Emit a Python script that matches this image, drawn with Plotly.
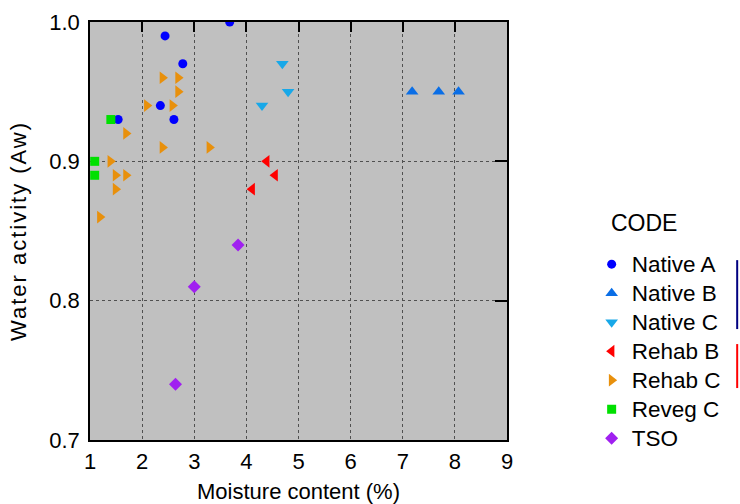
import plotly.graph_objects as go

# ---- data ----
native_a_x = [3.68, 2.44, 2.78, 2.35, 1.54, 2.61]
native_a_y = [1.00, 0.99, 0.97, 0.94, 0.93, 0.93]

native_b_x = [7.18, 7.69, 8.07]
native_b_y = [0.95, 0.95, 0.95]

native_c_x = [4.69, 4.80, 4.30]
native_c_y = [0.97, 0.95, 0.94]

rehab_b_x = [4.39, 4.55, 4.11]
rehab_b_y = [0.90, 0.89, 0.88]

rehab_c_x = [2.39, 2.69, 2.69, 2.09, 2.58, 1.69, 2.39, 3.29, 1.39, 1.49, 1.69, 1.49, 1.19]
rehab_c_y = [0.96, 0.96, 0.95, 0.94, 0.94, 0.92, 0.91, 0.91, 0.90, 0.89, 0.89, 0.88, 0.86]

reveg_c_x = [1.40, 1.09, 1.09]
reveg_c_y = [0.93, 0.90, 0.89]

tso_x = [3.84, 3.00, 2.64]
tso_y = [0.84, 0.81, 0.74]

x_ticks = [1, 2, 3, 4, 5, 6, 7, 8, 9]
y_ticks = [0.7, 0.8, 0.9, 1.0]
y_tick_labels = ["0.7", "0.8", "0.9", "1.0"]

series = [
    ("Native A", native_a_x, native_a_y, "circle", "#0000FF", 9),
    ("Native B", native_b_x, native_b_y, "triangle-up", "#0A6EE6", 11),
    ("Native C", native_c_x, native_c_y, "triangle-down", "#18A8E8", 11),
    ("Rehab B", rehab_b_x, rehab_b_y, "triangle-left", "#FF0000", 11),
    ("Rehab C", rehab_c_x, rehab_c_y, "triangle-right", "#E8900C", 11),
    ("Reveg C", reveg_c_x, reveg_c_y, "square", "#00E000", 9),
    ("TSO", tso_x, tso_y, "diamond", "#A020F0", 10),
]

FONT = "Liberation Sans, Arial, sans-serif"

fig = go.Figure()
for name, xs, ys, sym, col, sz in series:
    fig.add_trace(go.Scatter(
        x=xs, y=ys, mode="markers",
        name='<span style="font-size:22.5px">' + name + '</span>',
        marker=dict(symbol=sym, color=col, size=sz, line=dict(width=0)),
    ))

# dummy trace to anchor top/right tick axes
fig.add_trace(go.Scatter(x=[None], y=[None], xaxis="x2", yaxis="y2",
                         showlegend=False, hoverinfo="skip"))

fig.update_layout(
    width=740, height=504,
    margin=dict(l=89.6, r=232.7, t=21.7, b=64, autoexpand=False),
    paper_bgcolor="white",
    plot_bgcolor="#C0C0C0",
    font=dict(family=FONT, color="black"),
    showlegend=True,
    legend=dict(
        x=1.203, xanchor="left", y=0.4674, yanchor="top",
        font=dict(size=20, family=FONT, color="black"),
        bgcolor="rgba(0,0,0,0)", borderwidth=0,
        itemsizing="trace",
    ),
    xaxis=dict(
        range=[1, 9], tickvals=x_ticks, ticks="", ticklabelstandoff=1,
        tickfont=dict(size=22, family=FONT), automargin=False,
        showgrid=True, gridcolor="#505050", griddash="dot", gridwidth=1,
        showline=True, linecolor="black", linewidth=1.5, mirror=True,
        zeroline=False,
        title=dict(text="Moisture content (%)", font=dict(size=22, family=FONT), standoff=16),
    ),
    yaxis=dict(
        range=[0.7, 1.0], tickvals=y_ticks, ticktext=y_tick_labels, ticks="", ticklabelstandoff=4,
        tickfont=dict(size=22, family=FONT), automargin=False,
        showgrid=True, gridcolor="#505050", griddash="dot", gridwidth=1,
        showline=True, linecolor="black", linewidth=1.5, mirror=True,
        zeroline=False,
        title=dict(text='<span style="letter-spacing:2px">Water activity (Aw)</span>',
                   font=dict(size=22, family=FONT), standoff=17),
    ),
    xaxis2=dict(
        range=[1, 9], overlaying="x", side="top", tickvals=x_ticks,
        ticks="inside", ticklen=10, tickwidth=1.5, tickcolor="black", automargin=False,
        showticklabels=False, showgrid=False, zeroline=False, showline=False,
    ),
    yaxis2=dict(
        range=[0.7, 1.0], overlaying="y", side="right", tickvals=y_ticks,
        ticks="inside", ticklen=12, tickwidth=1.5, tickcolor="black", automargin=False,
        showticklabels=False, showgrid=False, zeroline=False, showline=False,
    ),
)

fig.add_annotation(
    text="CODE", xref="paper", yref="paper", x=1.244, y=0.519,
    xanchor="left", yanchor="middle", showarrow=False,
    font=dict(size=23, family=FONT, color="black"),
)

# group bars beside the legend
fig.add_shape(type="line", xref="paper", yref="paper",
              x0=1.552, x1=1.552, y0=0.4303, y1=0.2654,
              line=dict(color="#000080", width=2))
fig.add_shape(type="line", xref="paper", yref="paper",
              x0=1.552, x1=1.552, y0=0.2295, y1=0.1243,
              line=dict(color="#FF0000", width=2))

fig.write_html(
    "out.html",
    config={"displayModeBar": False},
    post_script="document.body.style.margin='0';document.body.style.overflow='hidden';",
)
